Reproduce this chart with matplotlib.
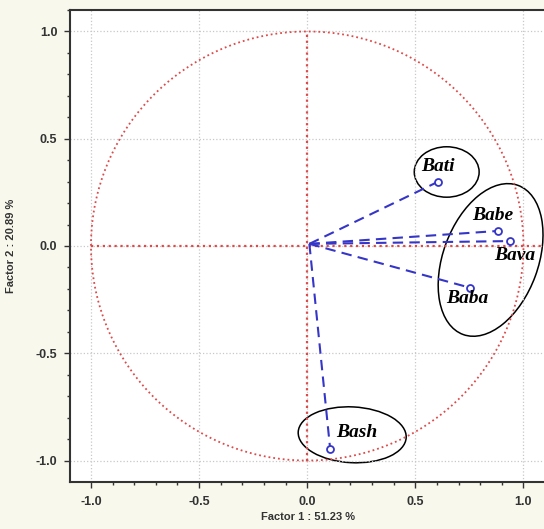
import numpy as np
import matplotlib
matplotlib.use("Agg")
import matplotlib.pyplot as plt
from matplotlib.patches import Ellipse

# loadings on factor 1 / factor 2
variables = ["Bati", "Babe", "Bava", "Baba", "Bash"]
factor1 = [0.606, 0.88, 0.94, 0.755, 0.106]
factor2 = [0.30, 0.07, 0.023, -0.195, -0.945]

# label positions next to the points
label_x = [0.603, 0.86, 0.96, 0.74, 0.23]
label_y = [0.37, 0.14, -0.045, -0.245, -0.87]

tick_vals = [-1.0, -0.5, 0.0, 0.5, 1.0]
tick_labels = ["-1.0", "-0.5", "0.0", "0.5", "1.0"]

fig = plt.figure(figsize=(5.44, 5.29), dpi=100, facecolor="#f8f8ec")
ax = fig.add_axes([70/544, 1 - 482/529, 1 - 70/544 + 0.002, (482 - 10)/529])
ax.set_facecolor("white")

red = "#dd4a4a"
blue = "#3535c8"

# unit circle and axes lines
theta = np.linspace(0, 2*np.pi, 400)
ax.plot(np.cos(theta), np.sin(theta), color=red, ls=":", lw=1.3)
ax.plot([-1, 1.1], [0, 0], color=red, ls=":", lw=1.6)
ax.plot([0, 0], [-1, 1], color=red, ls=":", lw=1.6)

for x, y in zip(factor1, factor2):
    ax.plot([0.01, x], [0.01, y], color=blue, ls=(0, (5, 3)), lw=1.5)
ax.plot(factor1, factor2, ls="none", marker="o", ms=5, mfc="white",
        mec=blue, mew=1.3)

for name, x, y in zip(variables, label_x, label_y):
    ax.text(x, y, name, family="Liberation Serif", fontsize=14,
            fontweight="bold", style="italic", ha="center", va="center")

# group ellipses
ax.add_patch(Ellipse((0.645, 0.345), 0.30, 0.235, fill=False, lw=1.1, ec="black"))
ax.add_patch(Ellipse((0.848, -0.065), 0.44, 0.74, angle=-20, fill=False,
                     lw=1.1, ec="black"))
ax.add_patch(Ellipse((0.208, -0.88), 0.50, 0.26, angle=-3, fill=False,
                     lw=1.1, ec="black"))

ax.set_xlim(-1.097, 1.1)
ax.set_ylim(-1.1, 1.093)
ax.set_xticks(tick_vals)
ax.set_xticklabels(tick_labels)
ax.set_yticks(tick_vals)
ax.set_yticklabels(tick_labels)
ax.set_xticks(np.arange(-1.0, 1.11, 0.1), minor=True)
ax.set_yticks(np.arange(-1.0, 1.11, 0.1), minor=True)
ax.tick_params(which="major", direction="out", length=4, width=1,
               labelsize=9, colors="#333333")
ax.tick_params(axis="x", which="major", pad=6)
ax.tick_params(axis="y", which="major", pad=5)
ax.tick_params(which="minor", direction="out", length=2.5, width=1,
               colors="#333333")
for lab in ax.get_xticklabels() + ax.get_yticklabels():
    lab.set_family("Liberation Sans")
    lab.set_fontweight("bold")
ax.grid(True, which="major", color="#c8c8c8", ls=":", lw=0.9)

for side in ["left", "bottom", "top"]:
    ax.spines[side].set_linewidth(1.5)
    ax.spines[side].set_color("#333333")
ax.spines["right"].set_visible(False)

ax.set_xlabel("Factor 1 : 51.23 %", fontsize=8, color="#333333", labelpad=3,
              family="Liberation Sans", fontweight="bold")
ax.set_ylabel("Factor 2 : 20.89 %", fontsize=8, color="#333333", labelpad=14,
              family="Liberation Sans", fontweight="bold")

plt.savefig("out.png", dpi=100, facecolor=fig.get_facecolor())
